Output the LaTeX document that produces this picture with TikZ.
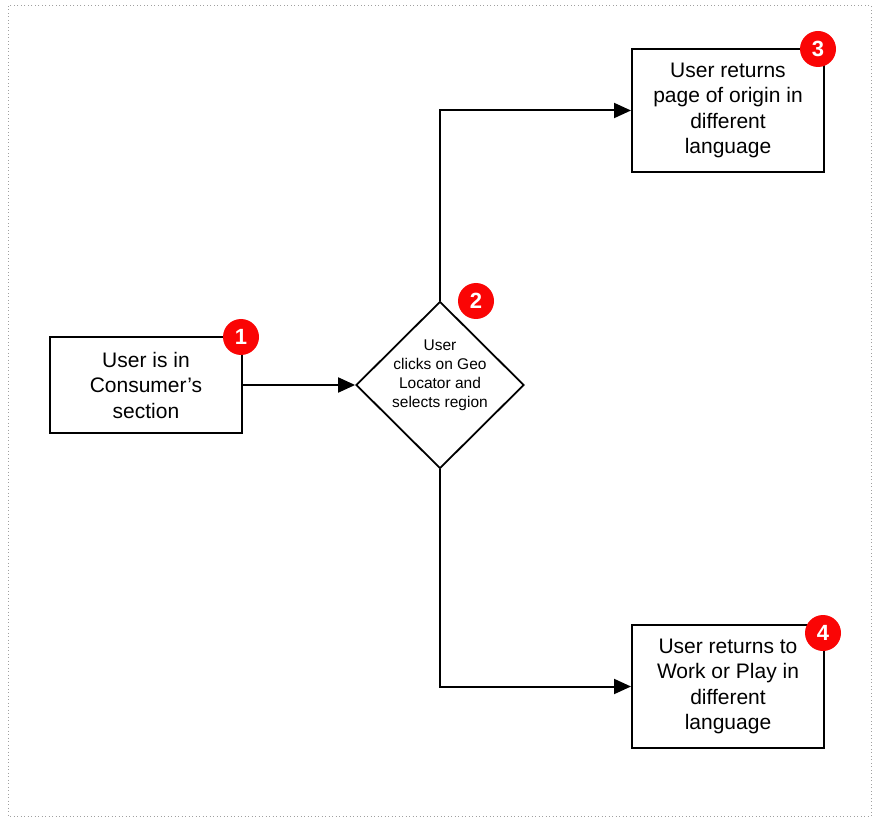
\documentclass[tikz,border=0pt]{standalone}
\usepackage{fontspec}
\setmainfont{Liberation Sans}
\usetikzlibrary{arrows.meta,shapes.geometric}
\definecolor{badgered}{RGB}{250,5,5}
\definecolor{framegray}{RGB}{160,160,160}
\tikzset{
  procbox/.style={draw=black, line width=2pt, fill=white, inner sep=0pt,
    minimum width=192pt, align=center,
    font=\fontsize{21pt}{25.5pt}\selectfont},
  decisionshape/.style={draw=black, line width=1.8pt, fill=white, diamond, inner sep=0pt,
    minimum width=168pt, minimum height=167pt},
  decisiontext/.style={align=center, inner sep=0pt,
    font=\fontsize{15.5pt}{19pt}\selectfont},
  badge/.style={circle, fill=badgered, text=white, inner sep=0pt, minimum size=36pt,
    font=\fontsize{22pt}{22pt}\selectfont\bfseries},
  flow/.style={line width=2pt, -{Triangle[length=17pt,width=15pt]}},
}
\begin{document}
\begin{tikzpicture}[x=1pt,y=-1pt]
\useasboundingbox (0,0) rectangle (873,818);
\draw[framegray, line width=1pt, dash pattern=on 1pt off 2.5pt] (8,6) rectangle (871,816);

\node[procbox, minimum height=96pt] (b1) at (146,385) {User is in\\Consumer's\\section};
\node[decisionshape] (d) at (440,385) {};
\node[decisiontext] (dt) at (440,375) {User\\clicks on Geo\\Locator and\\selects region};
\node[procbox, minimum height=123pt] (b3) at (728,110.5) {User returns\\page of origin in\\different\\language};
\node[procbox, minimum height=123pt] (b4) at (728,686.5) {User returns to\\Work or Play in\\different\\language};

\draw[flow] (b1.east) -- (d.west);
\draw[flow] (d.north) |- (b3.west);
\draw[flow] (d.south) |- (b4.west);

\node[badge] (n1) at (241,337) {1};
\node[badge] (n2) at (476,301) {2};
\node[badge] (n3) at (818,49) {3};
\node[badge] (n4) at (823,633) {4};
\end{tikzpicture}
\end{document}
